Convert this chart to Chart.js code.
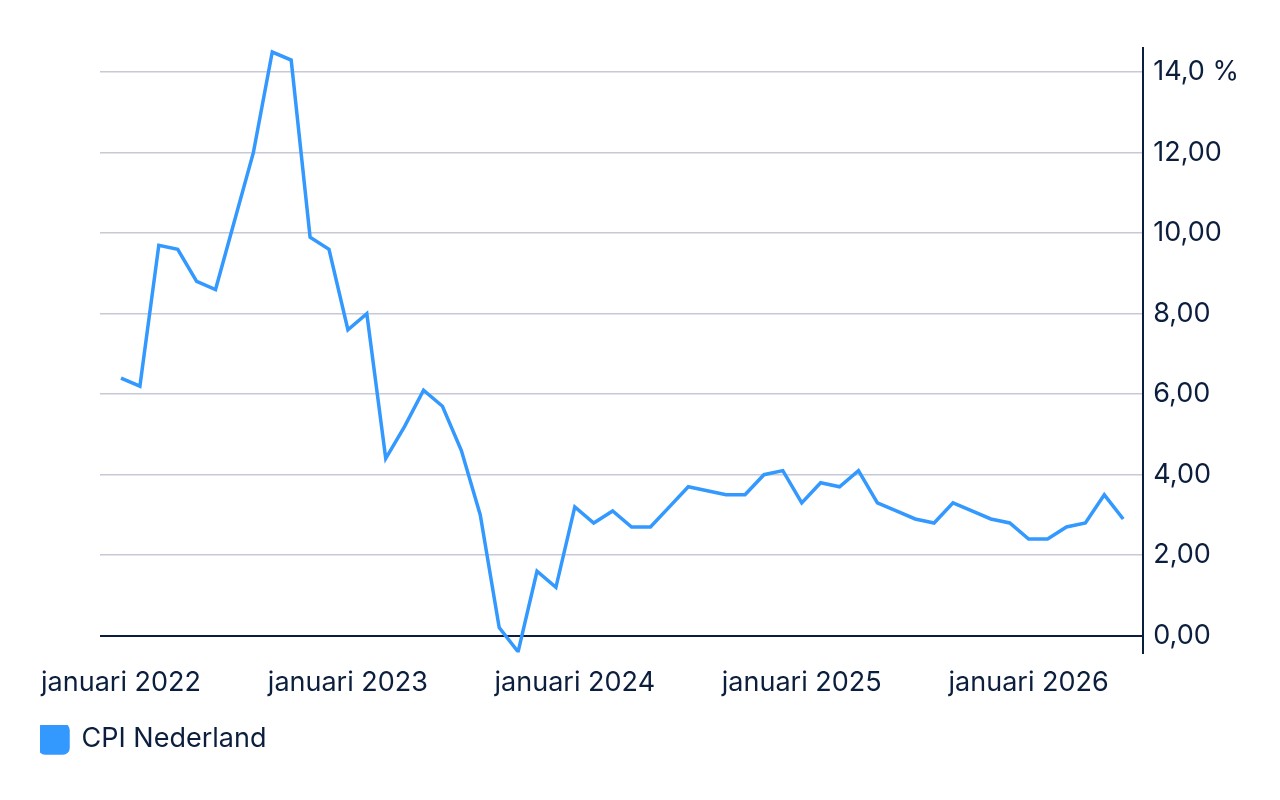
<!DOCTYPE html>
<html>
<head>
<meta charset="utf-8">
<script src="https://cdn.jsdelivr.net/npm/chart.js@4"></script>
<style>
html,body{margin:0;padding:0;background:#fff;}
#wrap{width:1280px;height:800px;position:relative;}
</style>
</head>
<body>
<div id="wrap"><canvas id="c" width="1280" height="800"></canvas></div>
<script>
const monthNames = ['januari','februari','maart','april','mei','juni','juli','augustus','september','oktober','november','december'];
const years = [2022, 2023, 2024, 2025, 2026];
const seriesName = 'CPI Nederland';
const cpiValues = [
  6.4, 6.2, 9.7, 9.6, 8.8, 8.6, 10.3, 12.0, 14.5, 14.3, 9.9, 9.6,
  7.6, 8.0, 4.4, 5.2, 6.1, 5.7, 4.6, 3.0, 0.2, -0.4, 1.6, 1.2,
  3.2, 2.8, 3.1, 2.7, 2.7, 3.2, 3.7, 3.6, 3.5, 3.5, 4.0, 4.1,
  3.3, 3.8, 3.7, 4.1, 3.3, 3.1, 2.9, 2.8, 3.3, 3.1, 2.9, 2.8,
  2.4, 2.4, 2.7, 2.8, 3.5, 2.9
];
const yTicks = [0, 2, 4, 6, 8, 10, 12, 14];
const xTickLabels = years.map(y => 'januari ' + y);

const monthLabels = cpiValues.map((v, i) => monthNames[i % 12] + ' ' + years[Math.floor(i / 12)]);
const points = cpiValues.map((v, i) => ({x: i, y: v}));

const NAVY = '#0b1e3d';
const BLUE = '#3399ff';
const GRID = '#c8c9d6';
const FONT = 'Inter, "Noto Sans", sans-serif';
const FS = 27;

new Chart(document.getElementById('c'), {
  type: 'line',
  data: {
    labels: monthLabels,
    datasets: [{
      label: seriesName,
      data: points,
      xAxisID: 'x',
      yAxisID: 'y',
      borderColor: BLUE,
      backgroundColor: BLUE,
      borderWidth: 3.5,
      pointRadius: 0,
      pointHoverRadius: 0,
      tension: 0,
      fill: false
    }]
  },
  options: {
    responsive: false,
    animation: false,
    devicePixelRatio: 1,
    layout: {padding: {left: 40, right: 31, top: 48, bottom: 37}},
    plugins: {
      tooltip: {enabled: false},
      legend: {
        position: 'bottom',
        align: 'start',
        labels: {
          boxWidth: 28,
          boxHeight: 28,
          useBorderRadius: true,
          borderRadius: 5,
          padding: 0,
          color: NAVY,
          font: {family: FONT, size: FS}
        }
      }
    },
    scales: {
      x: {
        type: 'linear',
        min: -1.11,
        max: 54.06,
        grid: {display: false, drawTicks: false},
        border: {display: false},
        afterBuildTicks: (s) => { s.ticks = xTickLabels.map((l, i) => ({value: i * 12})); },
        afterFit: (s) => { s.height += 12; },
        ticks: {
          autoSkip: false,
          maxRotation: 0,
          padding: 14,
          color: NAVY,
          font: {family: FONT, size: FS},
          callback: (v) => xTickLabels[Math.round(v / 12)]
        }
      },
      yPad: {
        position: 'left',
        display: true,
        min: 0,
        max: 1,
        grid: {display: false, drawTicks: false},
        border: {display: false},
        ticks: {display: false},
        afterFit: (s) => { s.width = 60; }
      },
      y: {
        position: 'right',
        min: -0.42,
        max: 14.6,
        afterBuildTicks: (s) => { s.ticks = yTicks.map(v => ({value: v})); },
        grid: {
          drawTicks: false,
          color: (ctx) => ctx.tick && ctx.tick.value === 0 ? NAVY : GRID,
          lineWidth: (ctx) => ctx.tick && ctx.tick.value === 0 ? 2 : 1.5
        },
        border: {display: true, color: NAVY, width: 2},
        ticks: {
          padding: 10,
          color: NAVY,
          font: {family: FONT, size: FS},
          callback: (v) => v === 14 ? '14,0 %' : v.toFixed(2).replace('.', ',')
        }
      }
    }
  }
});
</script>
</body>
</html>
